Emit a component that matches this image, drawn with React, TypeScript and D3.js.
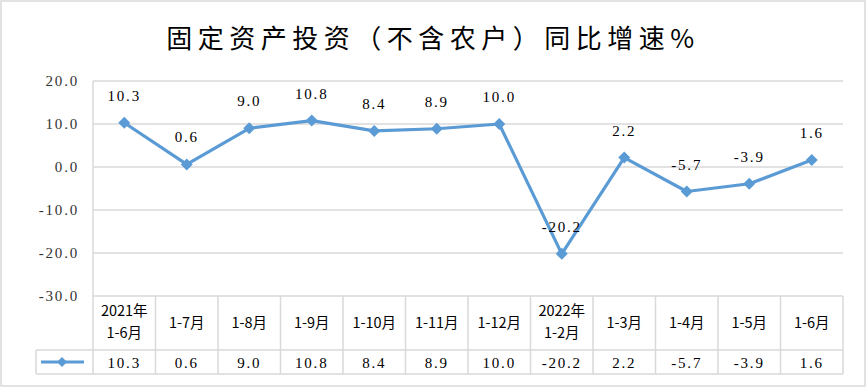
import React from "react";
import { scaleLinear, scaleBand, line } from "d3";

const categories = [
  "2021年\n1-6月", "1-7月", "1-8月", "1-9月", "1-10月", "1-11月", "1-12月",
  "2022年\n1-2月", "1-3月", "1-4月", "1-5月", "1-6月"
];
const growth = [10.3, 0.6, 9.0, 10.8, 8.4, 8.9, 10.0, -20.2, 2.2, -5.7, -3.9, 1.6];
const yTicks = [20, 10, 0, -10, -20, -30];

const W = 867;
const H = 387;
const left = 93;
const right = 843;
const top = 81;
const bottom = 296;
const row1 = 350;
const row2 = 374;
const legendLeft = 36;
const blue = "#5B9BD5";
const grid = "#D9D9D9";
const numFont = "'Liberation Serif', 'DejaVu Serif', serif";
const cjkFont = "'Noto Sans CJK SC', sans-serif";

const Diamond = ({ x, y, r }: any) => (
  <path d={`M${x},${y - r}L${x + r},${y}L${x},${y + r}L${x - r},${y}Z`} fill={blue} />
);

export default function App() {
  const x: any = scaleBand().domain(categories).range([left, right]);
  const y = scaleLinear().domain([-30, 20]).range([bottom, top]);
  const cx = (c: string) => x(c) + x.bandwidth() / 2;
  const pts = growth.map((v, i) => [cx(categories[i]), y(v)] as [number, number]);
  const path = line()(pts) || "";

  return (
    <svg width={W} height={H} style={{ position: "absolute", left: 0, top: 0, background: "#fff" }}>
      <rect x={1} y={1} width={W - 3} height={H - 2} fill="#fff" stroke={grid} strokeWidth={1.5} />
      <text x={433} y={48} textAnchor="middle" fontFamily={cjkFont} fontSize={26} letterSpacing={5.5} fill="#000">
        固定资产投资（不含农户）同比增速%
      </text>

      {yTicks.map((t) => (
        <g key={t}>
          <line x1={left} x2={right} y1={y(t)} y2={y(t)} stroke={grid} strokeWidth={1.5} />
          <text x={79} y={y(t) + 5} textAnchor="end" fontFamily={numFont} fontSize={15} letterSpacing={1.8} fill="#333">
            {t.toFixed(1)}
          </text>
        </g>
      ))}
      <line x1={left} x2={left} y1={top} y2={row2} stroke={grid} strokeWidth={1.5} />

      {/* data table */}
      {categories.map((c, i) => (
        <line key={"v" + i} x1={x(c) + x.bandwidth()} x2={x(c) + x.bandwidth()} y1={bottom} y2={row2} stroke={grid} strokeWidth={1.5} />
      ))}
      <line x1={legendLeft} x2={right} y1={row1} y2={row1} stroke={grid} strokeWidth={1.5} />
      <line x1={legendLeft} x2={right} y1={row2} y2={row2} stroke={grid} strokeWidth={1.5} />
      <line x1={legendLeft} x2={legendLeft} y1={row1} y2={row2} stroke={grid} strokeWidth={1.5} />
      <line x1={41} x2={84} y1={362} y2={362} stroke={blue} strokeWidth={3} />
      <Diamond x={62} y={362} r={5} />

      {categories.map((c, i) => {
        const parts = c.split("\n");
        const startY = parts.length > 1 ? 316 : 328;
        return (
          <text key={"c" + i} x={cx(c)} textAnchor="middle" fontFamily={cjkFont} fontSize={14.5} fill="#000">
            {parts.map((p, j) => (
              <tspan key={j} x={cx(c)} y={startY + j * 21.5}>{p}</tspan>
            ))}
          </text>
        );
      })}
      {growth.map((v, i) => (
        <text key={"t" + i} x={cx(categories[i])} y={368} textAnchor="middle" fontFamily={numFont} fontSize={15} letterSpacing={1.8} fill="#000">
          {v.toFixed(1)}
        </text>
      ))}

      {/* series */}
      <path d={path} fill="none" stroke={blue} strokeWidth={3.2} strokeLinejoin="round" />
      {pts.map(([px, py], i) => (
        <Diamond key={"d" + i} x={px} y={py} r={6} />
      ))}
      {growth.map((v, i) => (
        <text key={"l" + i} x={pts[i][0]} y={pts[i][1] - 22} textAnchor="middle" fontFamily={numFont} fontSize={15} letterSpacing={1.8} fill="#000">
          {v.toFixed(1)}
        </text>
      ))}
    </svg>
  );
}
